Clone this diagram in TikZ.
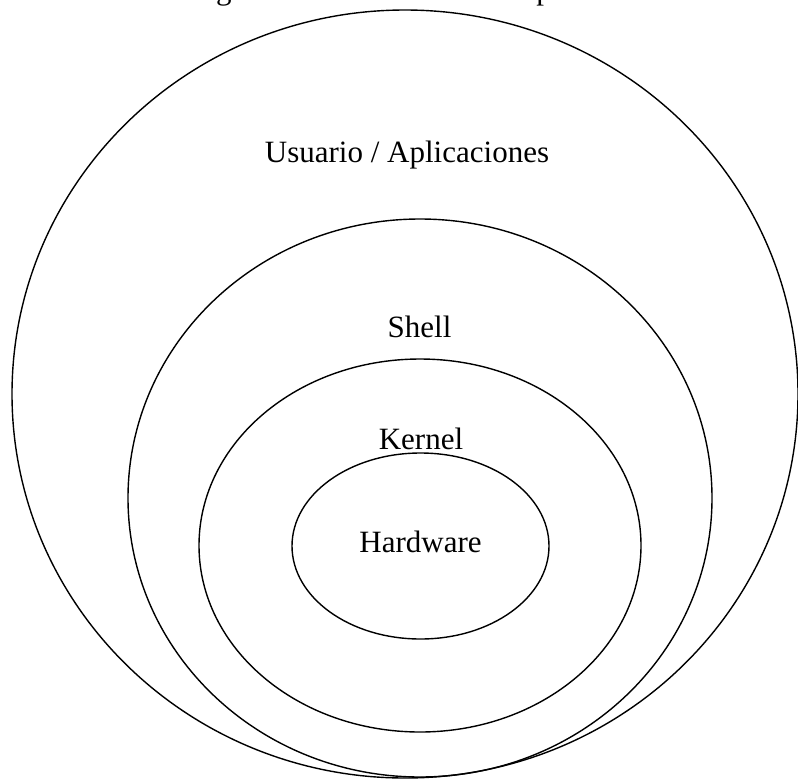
\documentclass[tikz,border=0pt]{standalone}
\usepackage{fontspec}
\setmainfont{Liberation Serif}
\definecolor{linecol}{HTML}{000000}
\definecolor{textcol}{HTML}{000000}

\begin{document}
\begin{tikzpicture}[x=1pt,y=-1pt,font=\fontsize{31}{37}\selectfont]
\useasboundingbox (0,0) rectangle (798,780);
\begin{scope}
\clip (0,0) rectangle (798,780);
% caption above the figure, mostly cut off
\node[anchor=base west,inner sep=0pt,text=textcol] (caption) at (190,-0.5) {Figura 2.1: Estructura en capas del sistema};
\foreach \name/\cx/\cy/\rx/\ry in {
	usuario/405/394/393/384,
	shell/420/498/292/279,
	kernel/420/545.5/221/186.5,
	hardware/420.5/546/128.5/93%
	}{
	\draw[draw=linecol,line width=1.4pt] (\cx,\cy) ellipse [x radius=\rx, y radius=\ry];
	\coordinate (\name) at (\cx,\cy);
	}
\end{scope}
\foreach \name/\x/\y/\txt in {
	lbluser/407/162/{Usuario / Aplicaciones},
	lblshell/419.5/337/Shell,
	lblkernel/421/449/Kernel,
	lblhw/420.5/552/Hardware%
	}{
	\node[anchor=base,inner sep=0pt,text=textcol] (\name) at (\x,\y) {\txt};
	}
\end{tikzpicture}
\end{document}
